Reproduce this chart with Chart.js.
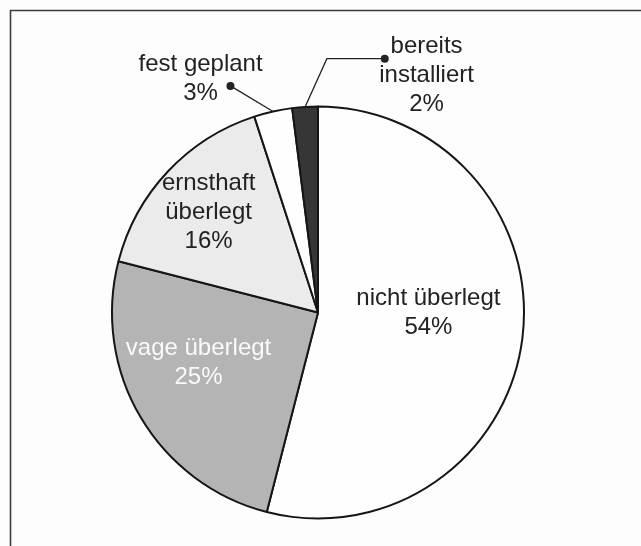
<!DOCTYPE html>
<html>
<head>
<meta charset="utf-8">
<script src="https://cdn.jsdelivr.net/npm/chart.js@4.4.1/dist/chart.umd.min.js"></script>
<style>
  html, body { margin: 0; padding: 0; background: #fdfdfd; }
  #wrap { position: relative; width: 641px; height: 546px; }
</style>
</head>
<body>
<div id="wrap"><canvas id="pieChart" width="641" height="546"></canvas></div>
<script>
// Data (clockwise from 12 o'clock)
const categories = ["nicht überlegt", "vage überlegt", "ernsthaft überlegt", "fest geplant", "bereits installiert"];
const shares = [54, 25, 16, 3, 2];
const labelLines = [
  ["nicht überlegt", "54%"],
  ["vage überlegt", "25%"],
  ["ernsthaft", "überlegt", "16%"],
  ["fest geplant", "3%"],
  ["bereits", "installiert", "2%"],
];

// Styles
const sliceColors = ["#fefefe", "#b4b4b4", "#ebebeb", "#fefefe", "#363636"];
const textColors = ["#222", "#fafafa", "#222", "#222", "#222"];

// label block centre, as fraction of radius from pie centre
const labelPos = [
  { dx: 0.536, dy: 0.0 },
  { dx: -0.58, dy: 0.246 },
  { dx: -0.531, dy: -0.488 },
  { dx: -0.57, dy: -1.133 },
  { dx: 0.527, dy: -1.15 },
];
// callouts: dot + optional elbow, line runs to the slice edge
const callouts = {
  3: { dot: { dx: -0.425, dy: -1.10 }, elbow: null },
  4: { dot: { dx: 0.324, dy: -1.232 }, elbow: { dx: 0.043, dy: -1.232 } },
};

const FONT = "24px 'Liberation Sans', Arial, sans-serif";
const LINE_H = 29;

const framePlugin = {
  id: "frame",
  beforeDraw(chart) {
    const ctx = chart.ctx;
    ctx.save();
    ctx.fillStyle = "#fdfdfd";
    ctx.fillRect(0, 0, chart.width, chart.height);
    ctx.strokeStyle = "#3c3c3c";
    ctx.lineWidth = 1.6;
    ctx.beginPath();
    ctx.moveTo(10.5, chart.height + 5);
    ctx.lineTo(10.5, 10.5);
    ctx.lineTo(chart.width + 5, 10.5);
    ctx.stroke();
    ctx.restore();
  },
};

const labelPlugin = {
  id: "sliceLabels",
  afterDatasetsDraw(chart) {
    const ctx = chart.ctx;
    const arcs = chart.getDatasetMeta(0).data;
    ctx.save();
    ctx.font = FONT;
    ctx.textAlign = "center";
    ctx.textBaseline = "middle";
    arcs.forEach((arc, i) => {
      const { x, y, outerRadius: r, startAngle, endAngle } = arc.getProps(
        ["x", "y", "outerRadius", "startAngle", "endAngle"], true,
      );
      // callout line first
      const c = callouts[i];
      if (c) {
        const mid = (startAngle + endAngle) / 2;
        const ex = x + Math.cos(mid) * r;
        const ey = y + Math.sin(mid) * r;
        const dx = x + c.dot.dx * r;
        const dy = y + c.dot.dy * r;
        ctx.strokeStyle = "#222";
        ctx.lineWidth = 1.3;
        ctx.beginPath();
        ctx.moveTo(dx, dy);
        if (c.elbow) ctx.lineTo(x + c.elbow.dx * r, y + c.elbow.dy * r);
        ctx.lineTo(ex, ey);
        ctx.stroke();
        ctx.fillStyle = "#222";
        ctx.beginPath();
        ctx.arc(dx, dy, 4, 0, Math.PI * 2);
        ctx.fill();
      }
      const lines = labelLines[i];
      const cx = x + labelPos[i].dx * r;
      const cy = y + labelPos[i].dy * r;
      const top = cy - ((lines.length - 1) * LINE_H) / 2;
      ctx.fillStyle = textColors[i];
      lines.forEach((t, k) => ctx.fillText(t, cx, top + k * LINE_H));
    });
    ctx.restore();
  },
};

new Chart(document.getElementById("pieChart"), {
  type: "pie",
  data: {
    labels: categories,
    datasets: [
      {
        data: shares,
        backgroundColor: sliceColors,
        borderColor: "#151515",
        borderWidth: 2,
      },
    ],
  },
  options: {
    responsive: false,
    animation: false,
    layout: { padding: { top: 104, bottom: 25, left: 111, right: 116 } },
    plugins: {
      legend: { display: false },
      tooltip: { enabled: false },
    },
  },
  plugins: [framePlugin, labelPlugin],
});
</script>
</body>
</html>
